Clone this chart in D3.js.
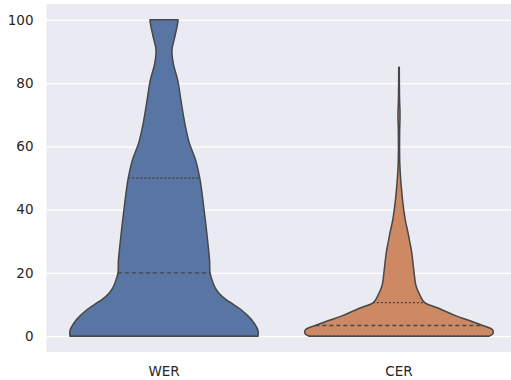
<!DOCTYPE html>
<html>
<head>
<meta charset="utf-8">
<script src="https://cdn.jsdelivr.net/npm/d3@7"></script>
<style>
  body { margin: 0; background: #fff; }
  text { font-family: "DejaVu Sans", sans-serif; }
</style>
</head>
<body>
<svg id="canvas" width="511" height="380"></svg>
<script>
const categories = ["WER", "CER"];
const yTicks = [0, 20, 40, 60, 80, 100];

// kde profile: value -> relative density
const werLevels = [0, 1.8, 4.5, 6.5, 8.6, 10.2, 11.8, 13.4, 15, 17, 20, 24, 28.5, 34, 39, 45, 50, 55.8, 61, 66, 70, 74.6, 81, 86, 90.4, 94.6, 98, 100];
const werDensity = [1.0, 1.0, 0.95, 0.89, 0.81, 0.73, 0.65, 0.59, 0.55, 0.52, 0.49, 0.485, 0.47, 0.45, 0.43, 0.405, 0.38, 0.335, 0.27, 0.23, 0.205, 0.18, 0.145, 0.1, 0.085, 0.115, 0.14, 0.15];
const werQuartiles = [0, 20, 50];

const cerLevels = [0, 0.8, 1.8, 2.4, 3.4, 4.5, 6.5, 8.6, 10.7, 12.8, 16, 20.2, 26.5, 29.7, 32.8, 37, 43, 47, 50, 55, 60, 65, 70, 75, 80, 85];
const cerDensity = [0.96, 1.0, 1.0, 0.98, 0.89, 0.79, 0.6, 0.44, 0.27, 0.225, 0.18, 0.16, 0.135, 0.115, 0.095, 0.065, 0.038, 0.025, 0.017, 0.008, 0.006, 0.007, 0.011, 0.006, 0.004, 0.003];
const cerQuartiles = [0, 3.4, 10.6];

const settings = {
  width: 511,
  height: 380,
  plot: { left: 46.5, right: 516.5, top: 4, bottom: 352 },
  colors: ["#5875a4", "#cc8963"],
  edge: "#474747",
};

function graph() {
  const svg = d3.select("#canvas");
  const p = settings.plot;

  const x = d3.scaleBand()
    .domain(categories)
    .range([p.left, p.right])
    .padding(0);

  const y = d3.scaleLinear()
    .domain([-5, 105])
    .range([p.bottom, p.top]);

  const violins = [
    { name: "WER", levels: werLevels, density: werDensity, quartiles: werQuartiles },
    { name: "CER", levels: cerLevels, density: cerDensity, quartiles: cerQuartiles },
  ];

  const maxDensity = d3.max(violins, v => d3.max(v.density));
  const w = d3.scaleLinear()
    .domain([0, maxDensity])
    .range([0, x.bandwidth() * 0.4]);

  // background
  svg.append("rect")
    .attr("x", p.left)
    .attr("y", p.top)
    .attr("width", p.right - p.left)
    .attr("height", p.bottom - p.top)
    .attr("fill", "#eaeaf2");

  // y axis with grid
  const yAxis = svg.append("g")
    .attr("transform", `translate(${p.left},0)`)
    .call(d3.axisLeft(y)
      .tickValues(yTicks)
      .tickSizeInner(-(p.right - p.left))
      .tickSizeOuter(0)
      .tickPadding(13));
  yAxis.select(".domain").remove();
  yAxis.selectAll("line").attr("stroke", "#fff").attr("stroke-width", 1.3);
  yAxis.selectAll("text")
    .attr("fill", "#262626")
    .style("font-size", "13.5px");

  // x axis
  const xAxis = svg.append("g")
    .attr("transform", `translate(0,${p.bottom})`)
    .call(d3.axisBottom(x).tickSize(0).tickPadding(14));
  xAxis.select(".domain").remove();
  xAxis.selectAll("text")
    .attr("fill", "#262626")
    .style("font-size", "13.5px");

  violins.forEach((v, i) => {
    const cx = x(v.name) + x.bandwidth() / 2;
    const pts = v.levels.map((l, j) => ({ value: l, d: v.density[j] }));

    const area = d3.area()
      .y(d => y(d.value))
      .x0(d => cx - w(d.d))
      .x1(d => cx + w(d.d))
      .curve(d3.curveCatmullRom.alpha(0.5));

    svg.append("path")
      .datum(pts)
      .attr("d", area)
      .attr("fill", settings.colors[i])
      .attr("stroke", settings.edge)
      .attr("stroke-width", 1.5)
      .attr("stroke-linejoin", "round");

    const densAt = d3.scaleLinear().domain(v.levels).range(v.density);
    svg.append("g")
      .selectAll("line")
      .data(v.quartiles)
      .join("line")
      .attr("x1", d => cx - w(densAt(d)))
      .attr("x2", d => cx + w(densAt(d)))
      .attr("y1", d => y(d))
      .attr("y2", d => y(d))
      .attr("stroke", settings.edge)
      .attr("stroke-width", 1.4)
      .attr("stroke-dasharray", (d, k) => k === 1 ? "4,3" : "2,2");
  });
}

window.addEventListener("DOMContentLoaded", () => graph());
</script>
</body>
</html>
